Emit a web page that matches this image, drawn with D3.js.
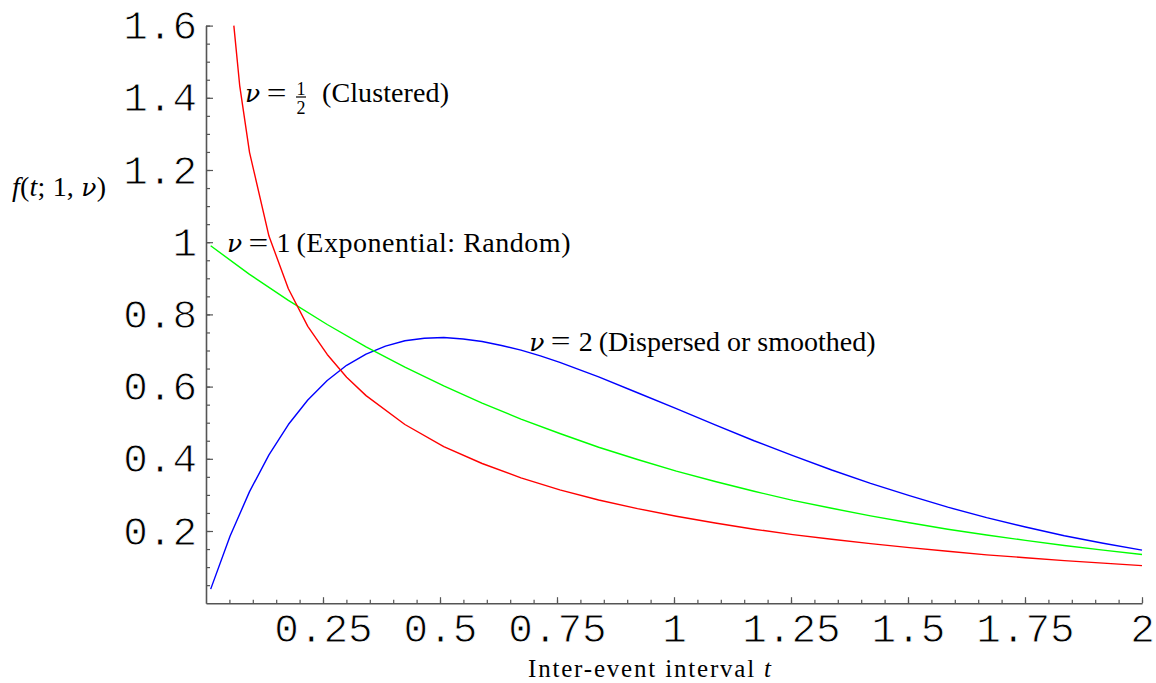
<!DOCTYPE html>
<html>
<head>
<meta charset="utf-8">
<script src="https://cdn.jsdelivr.net/npm/d3@7"></script>
<style>
  html, body { margin: 0; padding: 0; background: #fff; }
  svg { display: block; }
  .math { font-family: "Liberation Serif", "Times New Roman", serif; fill: #000; }
  .greek { font-family: "DejaVu Serif", serif; font-style: italic; }
  .tick text { font-family: "Liberation Mono", "Courier New", monospace; font-size: 41px; fill: #000;
               stroke: #fff; stroke-width: 0.9px; paint-order: normal; }
</style>
</head>
<body>
<svg id="chart" width="1156" height="683"></svg>
<script>
// Gamma densities with unit mean, f(t; 1, nu), sampled along t
const exponentialT = [0.01, 0.093, 0.176, 0.259, 0.342, 0.425, 0.508, 0.590, 0.673, 0.756, 0.839, 0.922,
  1.005, 1.088, 1.171, 1.254, 1.337, 1.420, 1.503, 1.585, 1.668, 1.751, 1.834, 1.917, 2.0];
const exponentialF = [0.990, 0.911, 0.839, 0.772, 0.710, 0.654, 0.602, 0.554, 0.510, 0.470, 0.432, 0.398,
  0.366, 0.337, 0.310, 0.285, 0.263, 0.242, 0.223, 0.205, 0.189, 0.174, 0.160, 0.147, 0.135];

const clusteredT = [0.0595, 0.072, 0.093, 0.1345, 0.176, 0.2175, 0.259, 0.3005, 0.342, 0.425, 0.508, 0.590,
  0.673, 0.756, 0.839, 0.922, 1.005, 1.088, 1.171, 1.254, 1.337, 1.420, 1.503, 1.585, 1.668, 1.751, 1.834, 1.917, 2.0];
const clusteredF = [1.600, 1.434, 1.249, 1.017, 0.871, 0.767, 0.689, 0.626, 0.575, 0.495, 0.434, 0.387,
  0.347, 0.314, 0.286, 0.262, 0.241, 0.222, 0.205, 0.190, 0.177, 0.165, 0.154, 0.144, 0.134, 0.126, 0.118, 0.111, 0.104];

const dispersedT = [0.01, 0.0515, 0.093, 0.1345, 0.176, 0.2175, 0.259, 0.3005, 0.342, 0.3835, 0.425, 0.4665,
  0.508, 0.5495, 0.590, 0.6315, 0.673, 0.7145, 0.756, 0.839, 0.922, 1.005, 1.088, 1.171, 1.254, 1.337, 1.420,
  1.503, 1.585, 1.668, 1.751, 1.834, 1.917, 2.0];
const dispersedF = [0.039, 0.186, 0.309, 0.411, 0.495, 0.563, 0.617, 0.659, 0.690, 0.712, 0.727, 0.734,
  0.736, 0.732, 0.725, 0.714, 0.701, 0.685, 0.667, 0.627, 0.583, 0.539, 0.494, 0.450, 0.409, 0.369, 0.332,
  0.298, 0.266, 0.237, 0.211, 0.187, 0.166, 0.147];

// Axis ticks
const xTickValues = [0.25, 0.5, 0.75, 1, 1.25, 1.5, 1.75, 2];
const xTickLabels = ["0.25", "0.5", "0.75", "1", "1.25", "1.5", "1.75", "2"];
const yTickValues = [0.2, 0.4, 0.6, 0.8, 1, 1.2, 1.4, 1.6];
const yTickLabels = ["0.2", "0.4", "0.6", "0.8", "1", "1.2", "1.4", "1.6"];
const xMinorValues = d3.range(1, 41).map(i => i * 0.05);
const yMinorValues = d3.range(1, 33).map(i => i * 0.05);

const svg = d3.select("#chart");
svg.append("rect").attr("width", 1156).attr("height", 683).attr("fill", "#fff");

const x = d3.scaleLinear().domain([0, 2]).range([206, 1142]);
const y = d3.scaleLinear().domain([0, 1.6]).range([603.2, 25.6]);

const axisColor = "#555";

// minor ticks (unlabelled)
svg.append("g")
  .attr("transform", `translate(0,${y(0)})`)
  .call(d3.axisBottom(x).tickValues(xMinorValues).tickSize(-3.5).tickSizeOuter(0).tickFormat(""))
  .call(g => g.select(".domain").remove())
  .call(g => g.selectAll("line").attr("stroke", axisColor).attr("stroke-width", 1.2));
svg.append("g")
  .attr("transform", `translate(${x(0)},0)`)
  .call(d3.axisLeft(y).tickValues(yMinorValues).tickSize(-4).tickSizeOuter(0).tickFormat(""))
  .call(g => g.select(".domain").remove())
  .call(g => g.selectAll("line").attr("stroke", axisColor).attr("stroke-width", 1.2));

// major ticks with labels
svg.append("g")
  .attr("transform", `translate(0,${y(0)})`)
  .call(d3.axisBottom(x).tickValues(xTickValues).tickSize(-6).tickSizeOuter(0).tickPadding(10)
    .tickFormat((d, i) => xTickLabels[i]))
  .call(g => g.select(".domain").attr("stroke", axisColor).attr("stroke-width", 1.6))
  .call(g => g.selectAll("line").attr("stroke", axisColor).attr("stroke-width", 1.2))
  .call(g => g.selectAll("text").attr("font-family", null).attr("font-size", null));
svg.append("g")
  .attr("transform", `translate(${x(0)},0)`)
  .call(d3.axisLeft(y).tickValues(yTickValues).tickSize(-7).tickSizeOuter(0).tickPadding(9)
    .tickFormat((d, i) => yTickLabels[i]))
  .call(g => g.select(".domain").attr("stroke", axisColor).attr("stroke-width", 1.6))
  .call(g => g.selectAll("line").attr("stroke", axisColor).attr("stroke-width", 1.2))
  .call(g => g.selectAll("text").attr("font-family", null).attr("font-size", null));

// density curves
const series = [
  { t: dispersedT, f: dispersedF, color: "#0000ff" },
  { t: exponentialT, f: exponentialF, color: "#00ff00" },
  { t: clusteredT, f: clusteredF, color: "#ff0000" }
];
const line = d3.line().x(d => x(d[0])).y(d => y(d[1]));
series.forEach(s => {
  svg.append("path")
    .datum(d3.zip(s.t, s.f))
    .attr("d", line)
    .attr("fill", "none")
    .attr("stroke", s.color)
    .attr("stroke-width", 1.4)
    .attr("stroke-linejoin", "round");
});

// axis titles
const yTitle = svg.append("text").attr("class", "math")
  .attr("x", 12).attr("y", 196).attr("font-size", 28)
  .attr("textLength", 94).attr("lengthAdjust", "spacing");
yTitle.append("tspan").attr("font-style", "italic").text("f");
yTitle.append("tspan").text("(");
yTitle.append("tspan").attr("font-style", "italic").text("t");
yTitle.append("tspan").text("; 1, ");
yTitle.append("tspan").attr("class", "greek").attr("font-size", 25).text("ν");
yTitle.append("tspan").text(")");

const xTitle = svg.append("text").attr("class", "math")
  .attr("x", 528).attr("y", 677).attr("font-size", 25)
  .attr("textLength", 243).attr("lengthAdjust", "spacing");
xTitle.append("tspan").text("Inter-event interval ");
xTitle.append("tspan").attr("font-style", "italic").text("t");

// curve annotations: nu = value (description)
const annotations = [
  { t: 0.0855, f: 1.387, value: null, num: "1", den: "2", desc: "(Clustered)", descOffset: 76, descLen: 127 },
  { t: 0.047, f: 0.973, value: "1", desc: "(Exponential: Random)", descOffset: 68.5, descLen: 274 },
  { t: 0.6926, f: 0.700, value: "2", desc: "(Dispersed or smoothed)", descOffset: 68.5, descLen: 277 }
];
annotations.forEach(a => {
  const ax = x(a.t), ay = y(a.f);
  const g = svg.append("g").attr("class", "math").attr("font-size", 28);
  g.append("text").attr("class", "greek").attr("x", ax - 1).attr("y", ay).attr("font-size", 25).text("ν");
  g.append("text").attr("x", ax + 30.5).attr("y", ay).attr("text-anchor", "middle")
    .attr("transform", `translate(${ax + 30.5},0) scale(1.25,1) translate(${-(ax + 30.5)},0)`)
    .text("=");
  if (a.value) {
    g.append("text").attr("x", ax + 55.5).attr("y", ay).attr("text-anchor", "middle").text(a.value);
  } else {
    g.append("text").attr("x", ax + 55).attr("y", ay - 7.4).attr("text-anchor", "middle")
      .attr("font-size", 18).text(a.num);
    g.append("line").attr("x1", ax + 50).attr("x2", ax + 60)
      .attr("y1", ay - 5.5).attr("y2", ay - 5.5).attr("stroke", "#000").attr("stroke-width", 1.2);
    g.append("text").attr("x", ax + 55).attr("y", ay + 11.2).attr("text-anchor", "middle")
      .attr("font-size", 18).text(a.den);
  }
  g.append("text").attr("x", ax + a.descOffset).attr("y", ay)
    .attr("textLength", a.descLen).attr("lengthAdjust", "spacing").text(a.desc);
});
</script>
</body>
</html>
